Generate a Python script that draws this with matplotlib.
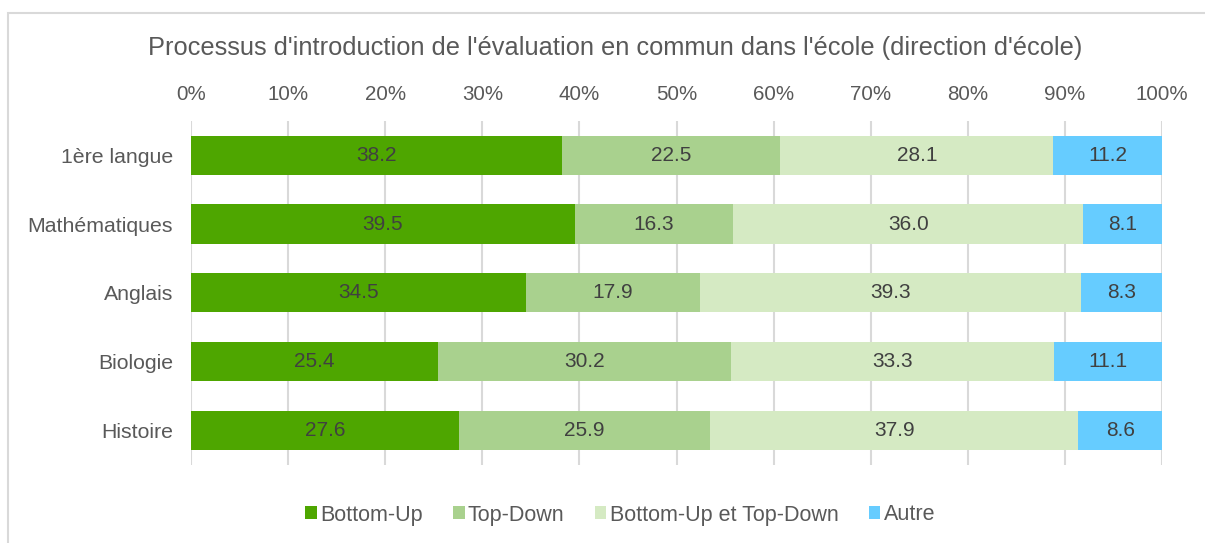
import matplotlib
matplotlib.use("Agg")
import matplotlib.pyplot as plt
from matplotlib.patches import Rectangle
import numpy as np

plt.rcParams['font.family'] = ['Liberation Sans', 'DejaVu Sans']

categories = ["1ère langue", "Mathématiques", "Anglais", "Biologie", "Histoire"]
series_names = ["Bottom-Up", "Top-Down", "Bottom-Up et Top-Down", "Autre"]
bottom_up = [38.2, 39.5, 34.5, 25.4, 27.6]
top_down = [22.5, 16.3, 17.9, 30.2, 25.9]
both = [28.1, 36.0, 39.3, 33.3, 37.9]
autre = [11.2, 8.1, 8.3, 11.1, 8.6]
xticks = [0, 10, 20, 30, 40, 50, 60, 70, 80, 90, 100]
title = "Processus d'introduction de l'évaluation en commun dans l'école (direction d'école)"

colors = ["#4EA600", "#A9D18E", "#D5EAC3", "#66CCFF"]
text_color = "#595959"

W, H = 1205, 543
fig = plt.figure(figsize=(W / 100, H / 100), dpi=100)
fig.patches.append(Rectangle((8 / W, -0.1), 1.2, 1 - 13 / H + 0.1, transform=fig.transFigure,
                             fill=False, edgecolor="#D9D9D9", linewidth=1.5))

ax = fig.add_axes([191 / W, 1 - 464.5 / H, (1162 - 191) / W, 343.5 / H])

data = [bottom_up, top_down, both, autre]
totals = np.array([sum(v) for v in zip(*data)])
y = np.arange(len(categories))
left = np.zeros(len(categories))
for name, vals, col in zip(series_names, data, colors):
    pct = np.array(vals) / totals * 100
    ax.barh(y, pct, left=left, height=0.57, color=col, label=name, zorder=3)
    for yi, l, w, v in zip(y, left, pct, vals):
        ax.text(l + w / 2, yi, f"{v:.1f}", ha="center", va="center",
                fontsize=15, color="#404040", zorder=4)
    left = left + pct

ax.set_xlim(0, 100)
ax.set_ylim(len(categories) - 0.5, -0.5)
ax.set_yticks(y)
ax.set_yticklabels(categories, fontsize=15.3, color=text_color)
ax.set_xticks(xticks)
ax.set_xticklabels([f"{t}%" for t in xticks], fontsize=14.8, color=text_color)
ax.xaxis.tick_top()
ax.tick_params(axis="y", length=0, pad=13)
ax.tick_params(axis="x", length=0, pad=12)
ax.grid(axis="x", color="#D9D9D9", linewidth=1.5, zorder=0)
for s in ax.spines.values():
    s.set_visible(False)

fig.text(615 / W, 1 - 48 / H, title, ha="center", va="center", fontsize=18.3, color=text_color)

fig.legend(loc="center", bbox_to_anchor=(620 / W, 1 - 515 / H), ncol=4, frameon=False,
           fontsize=15.5, handlelength=0.55, handleheight=0.55, handletextpad=0.15,
           columnspacing=1.4, labelcolor=text_color)

fig.savefig("out.png", dpi=100)
